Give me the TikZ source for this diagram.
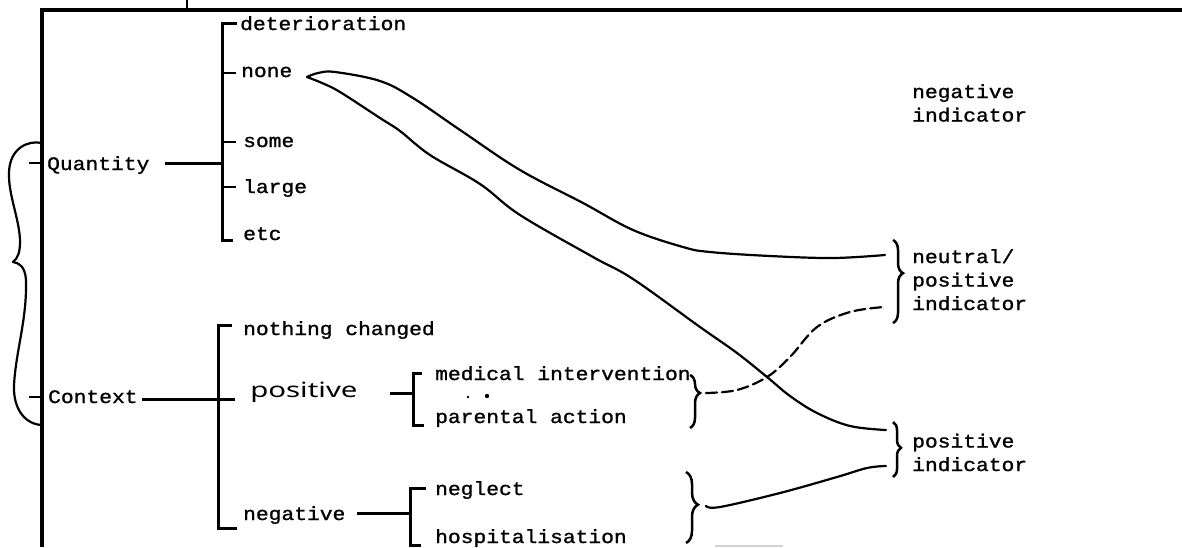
\documentclass[tikz,border=0pt]{standalone}
\usepackage{fontspec}
\setmonofont{Liberation Mono}[FakeStretch=1.12,FakeBold=1.2]
\newfontfamily\handfont{Noto Sans}
\usetikzlibrary{decorations.pathreplacing}
\begin{document}
\begin{tikzpicture}[x=1pt,y=-1pt,
  lbl/.style={font=\ttfamily\fontsize{19}{23.5}\selectfont, inner sep=0pt, anchor=base west, align=left},
  hand/.style={font=\handfont\fontsize{21}{21}\selectfont, inner sep=0pt, anchor=base west, xscale=1.4},
  frameline/.style={line width=3.2pt},
  barline/.style={line width=3pt},
  tickline/.style={line width=2.6pt},
  link/.style={line width=2.2pt, line cap=round, line join=round},
  dashlink/.style={link, dash pattern=on 11pt off 5pt},
  curly/.style={line width=2.5pt, decorate, decoration={brace, amplitude=#1}},
  curly/.default=9pt,
]
\useasboundingbox (0,0) rectangle (1182,547);

% outer frame
\coordinate (ftl) at (42,10);
\coordinate (ftr) at (1182,10);
\coordinate (fbl) at (42,547);
\draw[frameline] (ftr) -- (ftl) -- (fbl);
\draw[tickline] (187,0) -- (187,10);

% large left brace joining the two dimensions
\draw[link] (42,143) .. controls (28,140) and (10,148) .. (9,172)
  .. controls (8,195) and (20,220) .. (20,242)
  .. controls (20,252) and (18,258) .. (13,262)
  .. controls (19,263) and (25,266) .. (26,280)
  .. controls (27,320) and (16,350) .. (14,385)
  .. controls (13,410) and (26,425) .. (43,425);
\draw[tickline] (29,163) -- (42,163);
\draw[tickline] (29,397) -- (42,397);

% Quantity
\node[lbl] (quantity) at (47,170) {Quantity};
\coordinate (qtop) at (222,23);
\coordinate (qbot) at (222,240);
\draw[barline] (165,163) -- (222,163);
\draw[barline] (237,23) -- (qtop) -- (qbot) -- (233,240);
\foreach \yy in {73,142,187} \draw[tickline] (222,\yy) -- (236,\yy);
\node[lbl] (qdet) at (240,30) {deterioration};
\node[lbl] (qnone) at (241,77) {none};
\node[lbl] (qsome) at (243,147) {some};
\node[lbl] (qlarge) at (243,193) {large};
\node[lbl] (qetc) at (243,240) {etc};

% Context
\node[lbl] (context) at (48,403) {Context};
\draw[barline] (142,399) -- (235,399);
\draw[barline] (232,325) -- (218,325) -- (218,528) -- (237,528);
\node[lbl] (cnothing) at (243,335) {nothing changed};
\node[hand] (cpos) at (250,397) {positive};
\node[lbl] (cneg) at (243,520) {negative};

% positive context
\draw[barline] (390,393) -- (413,393);
\draw[barline] (422,373) -- (413,373) -- (413,425) -- (424,425);
\node[lbl] (pmed) at (435,380) {medical intervention};
\node[lbl] (ppar) at (435,423) {parental action};
\fill (468,397) circle (1.4pt);
\fill (487,396) circle (2.2pt);
\draw[curly=10pt, decoration={aspect=0.34}] (690,375) -- (690,428);
\coordinate (medtip) at (706,393);

% negative context
\draw[barline] (357,513) -- (410,513);
\draw[barline] (426,488) -- (410,488) -- (410,545) -- (421,545);
\node[lbl] (nneg) at (435,495) {neglect};
\node[lbl] (nhosp) at (435,543) {hospitalisation};
\draw[curly=12pt, decoration={aspect=0.46}] (686,472) -- (686,543);
\coordinate (negtip) at (706,506);

% indicators (multi-line nodes sit on the baseline of their last line)
\node[lbl] (negind) at (912,121.5) {negative\\indicator};
\draw[curly=10pt, decoration={aspect=0.4}] (893,240) -- (893,323);
\node[lbl] (neutind) at (912,310) {neutral/\\positive\\indicator};
\draw[curly=8pt, decoration={aspect=0.47}] (893,422) -- (893,477);
\node[lbl] (posind) at (912,471) {positive\\indicator};

% connectors
\coordinate (nonetip) at (307,77);
\coordinate (neuthi) at (885,255);
\coordinate (neutlo) at (884,307);
\coordinate (poshi) at (886,430);
\coordinate (poslo) at (886,466);

\draw[link] plot[smooth, tension=0.6] coordinates {(nonetip) (318,73) (335,72) (380,81) (413,98) (463,132) (520,170) (583,203) (633,230) (683,247) (710,252) (770,256) (833,258) (neuthi)};
\draw[link] plot[smooth, tension=0.6] coordinates {(nonetip) (322,83) (340,92) (380,118) (400,131) (430,155) (480,184) (520,215) (593,257) (633,279) (700,327) (737,353) (767,377) (790,396) (817,413) (850,426) (poshi)};
\draw[dashlink] plot[smooth, tension=0.6] coordinates {(medtip) (737,390) (767,377) (790,357) (817,327) (850,312) (neutlo)};
\draw[link] plot[smooth, tension=0.6] coordinates {(negtip) (720,507) (780,493) (837,477) (867,468) (poslo)};

\draw[gray!35, line width=1.5pt] (715,546) -- (783,546);
\end{tikzpicture}
\end{document}
